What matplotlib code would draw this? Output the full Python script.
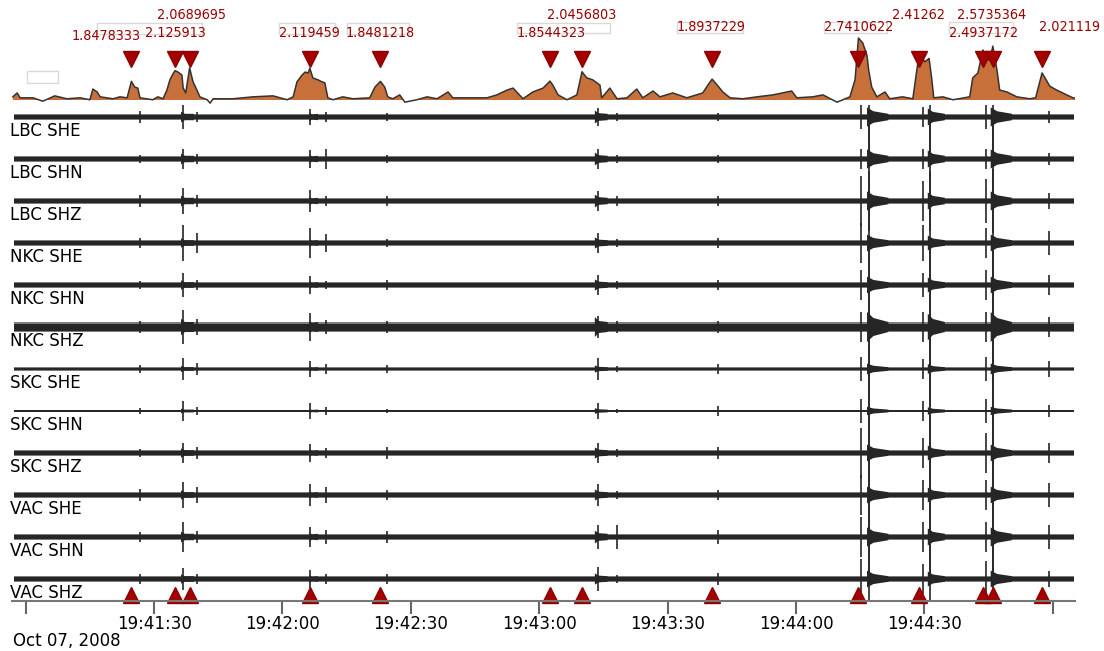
import matplotlib
matplotlib.use("Agg")
import matplotlib.pyplot as plt
from matplotlib.patches import Rectangle
from matplotlib.transforms import blended_transform_factory

# seconds after 19:41:00, Oct 07 2008
stations = ["LBC SHE", "LBC SHN", "LBC SHZ", "NKC SHE", "NKC SHN", "NKC SHZ",
            "SKC SHE", "SKC SHN", "SKC SHZ", "VAC SHE", "VAC SHN", "VAC SHZ"]

# picks (time, characteristic function value)
pick_t = [24.7, 34.9, 38.3, 66.4, 82.9, 122.5, 130.0, 160.4, 194.6, 208.8, 223.7, 226.0, 237.5]
pick_v = [1.8478333, 2.0689695, 2.125913, 2.119459, 1.8481218, 1.8544323, 2.0456803,
          1.8937229, 2.7410622, 2.41262, 2.4937172, 2.5735364, 2.021119]
pick_lbl = ["1.8478333", "2.0689695", "2.125913", "2.119459", "1.8481218", "1.8544323",
            "2.0456803", "1.8937229", "2.7410622", "2.41262", "2.4937172", "2.5735364", "2.021119"]

# characteristic function (stacked)
cf_t = [-3.0, -2.0, -1.3, 1.7, 4.0, 6.8, 9.6, 12.7, 15.0, 15.7, 16.7, 17.4, 20.4, 22.0, 23.7,
        24.7, 25.5, 26.2, 26.7, 29.7, 30.9, 32.1, 33.0, 33.7, 34.4, 34.9, 35.6, 36.5, 36.8,
        37.4, 38.3, 39.1, 40.0, 40.7, 42.4, 43.1, 43.8, 48.4, 53.1, 57.8, 61.1, 62.5, 63.4,
        64.6, 65.3, 66.0, 66.4, 67.1, 68.3, 69.2, 69.9, 70.6, 71.8, 74.1, 76.5, 80.4, 81.6,
        82.9, 83.9, 84.6, 85.8, 87.4, 88.6, 91.4, 93.8, 96.1, 98.7, 99.8, 103.8, 107.8,
        110.1, 112.5, 113.9, 116.2, 118.5, 120.9, 122.5, 123.2, 124.4, 126.5, 128.8, 130.0,
        131.1, 132.5, 134.2, 134.6, 136.5, 138.2, 140.5, 142.8, 144.2, 146.6, 148.2, 151.2,
        154.5, 158.2, 159.4, 160.4, 161.8, 162.9, 164.6, 167.6, 170.9, 174.6, 179.0, 180.2,
        183.9, 186.3, 189.6, 192.6, 193.8, 194.6, 195.6, 196.6, 197.0, 197.7, 198.9, 200.8,
        201.9, 204.9, 207.3, 208.3, 208.8, 210.1, 211.1, 211.7, 212.2, 214.3, 216.7, 220.6,
        221.3, 222.5, 223.7, 224.6, 225.3, 226.0, 227.0, 227.6, 229.3, 231.6, 234.6, 236.0,
        237.5, 238.2, 239.3, 240.9, 243.3, 244.7, 245.8]
cf_v = [1.53, 1.61, 1.51, 1.51, 1.44, 1.55, 1.49, 1.51, 1.47, 1.69, 1.63, 1.53, 1.49, 1.53, 1.51,
        1.848, 1.73, 1.71, 1.51, 1.47, 1.53, 1.49, 1.67, 1.88, 2.00, 2.069, 2.04, 1.98, 1.71,
        1.61, 2.126, 1.84, 1.67, 1.53, 1.47, 1.40, 1.49, 1.49, 1.53, 1.55, 1.47, 1.53, 1.84,
        1.98, 2.04, 2.02, 2.119, 1.92, 1.88, 1.84, 1.82, 1.51, 1.47, 1.53, 1.49, 1.51, 1.73,
        1.848, 1.73, 1.53, 1.49, 1.57, 1.42, 1.47, 1.53, 1.49, 1.63, 1.51, 1.51, 1.51,
        1.57, 1.67, 1.71, 1.49, 1.63, 1.71, 1.854, 1.77, 1.57, 1.47, 1.57, 2.046,
        1.92, 1.88, 1.77, 1.51, 1.71, 1.49, 1.51, 1.69, 1.51, 1.65, 1.53, 1.61,
        1.51, 1.61, 1.77, 1.894, 1.75, 1.63, 1.51, 1.49, 1.53, 1.57, 1.65, 1.51,
        1.53, 1.57, 1.42, 1.53, 1.88, 2.741, 2.64, 2.38, 2.07, 1.73, 1.53, 1.63,
        1.49, 1.53, 1.49, 2.12, 2.413, 2.25, 2.32, 1.92, 1.51, 1.53, 1.47, 1.53,
        1.92, 2.02, 2.494, 2.30, 2.28, 2.574, 2.06, 1.67, 1.63, 1.53, 1.49, 1.51,
        2.021, 1.92, 1.75, 1.67, 1.57, 1.51, 1.49]
cf_base = 1.465

# waveform envelopes (same units as the trace spacing of 42)
noise = [3.2, 3.2, 3.2, 2.8, 2.8, 5.0, 1.8, 1.4, 2.8, 2.8, 3.2, 2.8]
event_t = [26.7, 36.8, 40.0, 66.5, 70.2, 84.4, 133.7, 138.2, 161.7,
           195.3, 197.0, 209.6, 211.2, 224.5, 226.0, 239.1]
amp = [
    [6, 12, 5, 8, 5, 4, 9, 4, 4, 12, 40, 10, 38, 12, 40, 6],
    [4, 10, 5, 9, 10, 4, 10, 4, 4, 10, 36, 10, 35, 10, 38, 6],
    [6, 13, 6, 11, 5, 5, 10, 5, 5, 25, 30, 20, 30, 22, 32, 8],
    [5, 18, 10, 15, 9, 4, 10, 4, 5, 20, 42, 18, 40, 15, 40, 12],
    [4, 12, 5, 9, 4, 5, 10, 4, 5, 15, 42, 12, 40, 15, 42, 10],
    [6, 17, 8, 14, 7, 6, 11, 6, 6, 15, 40, 15, 38, 15, 40, 10],
    [4, 11, 6, 8, 5, 4, 11, 3, 5, 12, 40, 10, 38, 12, 40, 8],
    [3, 10, 4, 8, 4, 2, 8, 2, 5, 12, 40, 10, 38, 12, 40, 6],
    [4, 10, 6, 9, 5, 6, 10, 4, 6, 25, 40, 15, 38, 20, 40, 10],
    [6, 13, 8, 11, 8, 5, 11, 4, 5, 20, 40, 15, 38, 15, 40, 12],
    [5, 15, 6, 10, 7, 6, 12, 12, 7, 20, 40, 15, 38, 15, 40, 12],
    [5, 11, 5, 9, 5, 5, 12, 4, 6, 20, 40, 15, 38, 18, 40, 8],
]
# coda after the main arrivals: (start, duration, half width)
coda = [(36.3, 3.0, 5.0), (66.3, 2.0, 4.0), (133.0, 3.0, 6.0),
        (196.6, 5.0, 9.0), (210.8, 4.0, 8.0), (225.5, 5.0, 9.0)]

tick_s = [0, 30, 60, 90, 120, 150, 180, 210, 240]
tick_lbl = ["", "19:41:30", "19:42:00", "19:42:30", "19:43:00", "19:43:30", "19:44:00", "19:44:30", ""]

# label placement (time, cf value) and leftover label frames (t, v, width s, height v)
label_xy = [(10.8, 2.782), (30.7, 3.210), (27.9, 2.844), (59.2, 2.844), (74.8, 2.844),
            (114.6, 2.844), (121.8, 3.210), (152.2, 2.967), (186.5, 2.967), (202.4, 3.210),
            (215.7, 2.844), (217.6, 3.210), (236.8, 2.967)]
frames = [(16.7, 2.823, 24.5, 0.226), (59.2, 2.823, 13.1, 0.226), (75.0, 2.823, 14.5, 0.226),
          (114.8, 2.844, 21.7, 0.205), (152.2, 2.844, 15.4, 0.226), (186.5, 2.844, 14.7, 0.226),
          (215.7, 2.844, 15.0, 0.226), (0.3, 1.815, 7.2, 0.247)]

spacing = 42
t0, t1 = -3.2, 245.2
red = "#a50000"
ink = "#262626"

fig = plt.figure(figsize=(11.04, 6.51), dpi=100)
ax_cf = fig.add_axes([12 / 1104, 546 / 651, 1063 / 1104, 105 / 651])
ax = fig.add_axes([12 / 1104, 50 / 651, 1063 / 1104, 496 / 651])

# top panel
for (x, y, w, h) in frames:
    ax_cf.add_patch(Rectangle((x, y), w, h, fill=False, ec="#d9d9d9", lw=1))
ax_cf.fill_between(cf_t, cf_v, cf_base, where=[v >= cf_base for v in cf_v],
                   interpolate=True, color="#c8703a", lw=0)
ax_cf.plot(cf_t, cf_v, color="#333333", lw=1.1)
ax_cf.plot(pick_t, [2.309] * len(pick_t), "v", color=red, ms=11, mec="#8b0000")
for (x, y), s in zip(label_xy, pick_lbl):
    ax_cf.text(x, y, s, color="#990000", fontsize=10.3, fontstretch="condensed",
               ha="left", va="center")
ax_cf.set_xlim(t0, t1)
ax_cf.set_ylim(1.362, 3.523)
ax_cf.axis("off")

# traces
lab_tf = blended_transform_factory(ax.transAxes, ax.transData)
for i, name in enumerate(stations):
    c = -i * spacing
    n = noise[i]
    ax.fill_between([t0 + 0.4, t1 - 0.2], c - n, c + n, color=ink, alpha=0.6, lw=0)
    ax.fill_between([t0 + 0.4, t1 - 0.2], c - 0.7 * n, c + 0.7 * n, color=ink, lw=0)
    for (ts, dur, w) in coda:
        ww = w * n / 3.0
        ax.fill([ts, ts + 0.3 * dur, ts + dur, ts + dur, ts + 0.3 * dur, ts],
                [c + ww, c + 0.6 * ww, c + n, c - n, c - 0.6 * ww, c - ww],
                color=ink, lw=0)
    ax.vlines(event_t, [c - a for a in amp[i]], [c + a for a in amp[i]], color=ink, lw=1.2)
    ax.text(-0.002, c - 14, name, transform=lab_tf, fontsize=12, ha="left", va="center",
            clip_on=False)

ax.plot(pick_t, [0.012] * len(pick_t), "^", color=red, ms=11, mec="#8b0000",
        transform=blended_transform_factory(ax.transData, ax.transAxes), clip_on=False)

ax.set_xlim(t0, t1)
ax.set_ylim(-11.524 * spacing, 0.286 * spacing)
for s in ["left", "right", "top"]:
    ax.spines[s].set_visible(False)
ax.spines["bottom"].set_color("#777777")
ax.spines["bottom"].set_linewidth(1.5)
ax.set_yticks([])
ax.set_xticks(tick_s)
ax.set_xticklabels(tick_lbl)
ax.tick_params(axis="x", length=9, width=1.5, color="#666666", labelsize=12, pad=1)

fig.text(13 / 1104, 10 / 651, "Oct 07, 2008", fontsize=12, ha="left", va="center")

fig.savefig("out.png", dpi=100)
